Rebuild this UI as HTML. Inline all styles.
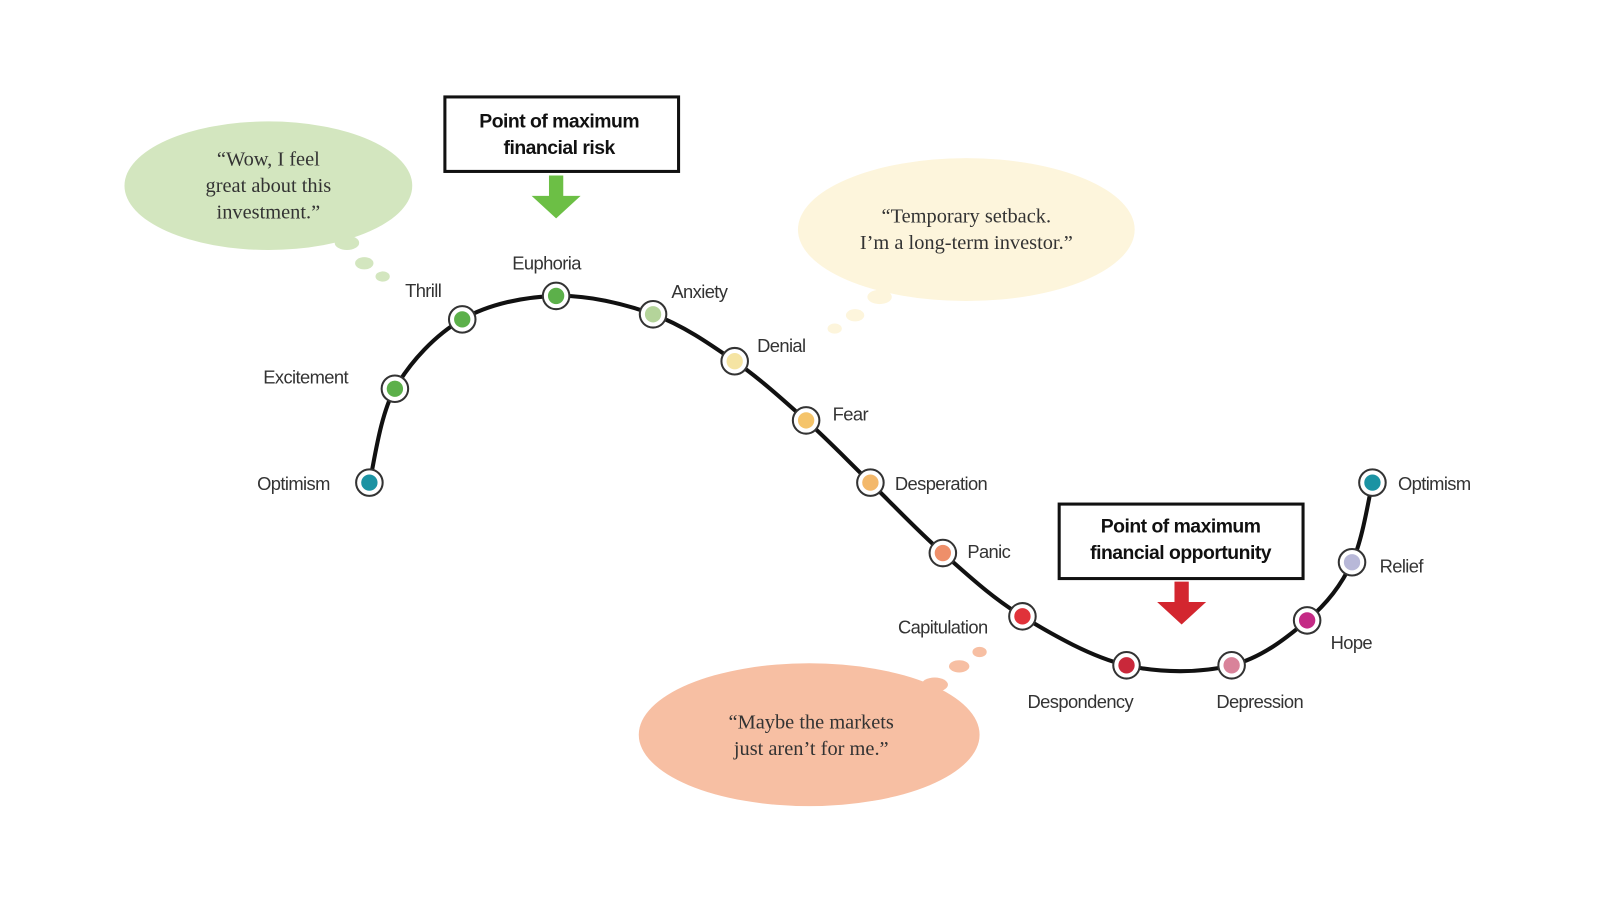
<!DOCTYPE html>
<html><head><meta charset="utf-8"><style>
html,body{margin:0;padding:0;background:#fff;}
svg{display:block;}
.l{font-family:"Liberation Sans",sans-serif;font-size:18px;fill:#333;letter-spacing:-0.6px;}
.q{font-family:"Liberation Serif",serif;font-size:20px;fill:#333;text-anchor:middle;}
.b{font-family:"Liberation Sans",sans-serif;font-size:19px;font-weight:bold;fill:#111;text-anchor:middle;letter-spacing:-0.5px;}
</style></head><body>
<svg width="1600" height="900" viewBox="0 0 1600 900">
<g transform="scale(1.0204)">
<ellipse cx="263" cy="182" rx="141" ry="63" fill="#d3e6bf"/>
<ellipse cx="340" cy="238" rx="12" ry="7" fill="#d3e6bf"/>
<ellipse cx="357" cy="258" rx="9" ry="6" fill="#d3e6bf"/>
<ellipse cx="375" cy="271" rx="7" ry="5" fill="#d3e6bf"/>
<text class="q" x="263" y="162">“Wow, I feel</text>
<text class="q" x="263" y="188">great about this</text>
<text class="q" x="263" y="214">investment.”</text>

<ellipse cx="947" cy="225" rx="165" ry="70" fill="#fdf5dc"/>
<ellipse cx="862" cy="291" rx="12" ry="7" fill="#fdf5dc"/>
<ellipse cx="838" cy="309" rx="9" ry="6" fill="#fdf5dc"/>
<ellipse cx="818" cy="322" rx="7" ry="5" fill="#fdf5dc"/>
<text class="q" x="947" y="218">“Temporary setback.</text>
<text class="q" x="947" y="244">I’m a long-term investor.”</text>

<ellipse cx="793" cy="720" rx="167" ry="70" fill="#f7bfa3"/>
<ellipse cx="916" cy="671" rx="13" ry="7" fill="#f7bfa3"/>
<ellipse cx="940" cy="653" rx="10" ry="6" fill="#f7bfa3"/>
<ellipse cx="960" cy="639" rx="7" ry="5" fill="#f7bfa3"/>
<text class="q" x="795" y="714">“Maybe the markets</text>
<text class="q" x="795" y="740">just aren’t for me.”</text>

<rect x="436" y="95" width="229" height="73" fill="#fff" stroke="#111" stroke-width="3"/>
<text class="b" x="548" y="125">Point of maximum</text>
<text class="b" x="548" y="151">financial risk</text>
<polygon points="538,172 552,172 552,192 569,192 545,214 521,192 538,192" fill="#6cbf45"/>

<rect x="1038" y="494" width="239" height="73" fill="#fff" stroke="#111" stroke-width="3"/>
<text class="b" x="1157" y="522">Point of maximum</text>
<text class="b" x="1157" y="548">financial opportunity</text>
<polygon points="1151,570 1165,570 1165,590 1182,590 1158,612 1134,590 1151,590" fill="#d3262f"/>

<path id="curve" d="" fill="none" stroke="#111" stroke-width="4"/>
<g id="nodes"></g>

<text class="l" x="252" y="480">Optimism</text>
<text class="l" x="258" y="376">Excitement</text>
<text class="l" x="397" y="291">Thrill</text>
<text class="l" x="502" y="264">Euphoria</text>
<text class="l" x="658" y="292">Anxiety</text>
<text class="l" x="742" y="345">Denial</text>
<text class="l" x="816" y="412">Fear</text>
<text class="l" x="877" y="480">Desperation</text>
<text class="l" x="948" y="547">Panic</text>
<text class="l" x="880" y="621">Capitulation</text>
<text class="l" x="1007" y="694">Despondency</text>
<text class="l" x="1192" y="694">Depression</text>
<text class="l" x="1304" y="636">Hope</text>
<text class="l" x="1352" y="561">Relief</text>
<text class="l" x="1370" y="480">Optimism</text>
</g>
</svg>
<script>
var P=[[362,473,'#1b93a3'],[387,381,'#5cb04a'],[453,313,'#5cb04a'],[545,290,'#5cb04a'],[640,308,'#b4d49a'],[720,354,'#f5e4a3'],[790,412,'#f5c46a'],[853,473,'#f3b86a'],[924,542,'#ee8f6a'],[1002,604,'#e0323a'],[1104,652,'#c9283a'],[1207,652,'#d9839a'],[1281,608,'#c42a85'],[1325,551,'#b8b8d8'],[1345,473,'#1b93a3']];
var d='M'+P[0][0]+','+P[0][1];
for(var i=0;i<P.length-1;i++){var p0=P[Math.max(i-1,0)],p1=P[i],p2=P[i+1],p3=P[Math.min(i+2,P.length-1)];
d+=' C'+(p1[0]+(p2[0]-p0[0])/6)+','+(p1[1]+(p2[1]-p0[1])/6)+' '+(p2[0]-(p3[0]-p1[0])/6)+','+(p2[1]-(p3[1]-p1[1])/6)+' '+p2[0]+','+p2[1];}
document.getElementById('curve').setAttribute('d',d);
var g=document.getElementById('nodes'),s='';
P.forEach(function(p){s+='<circle cx="'+p[0]+'" cy="'+p[1]+'" r="13" fill="#fff" stroke="#333" stroke-width="2"/><circle cx="'+p[0]+'" cy="'+p[1]+'" r="8" fill="'+p[2]+'"/>';});
g.innerHTML=s;
</script>
</body></html>
